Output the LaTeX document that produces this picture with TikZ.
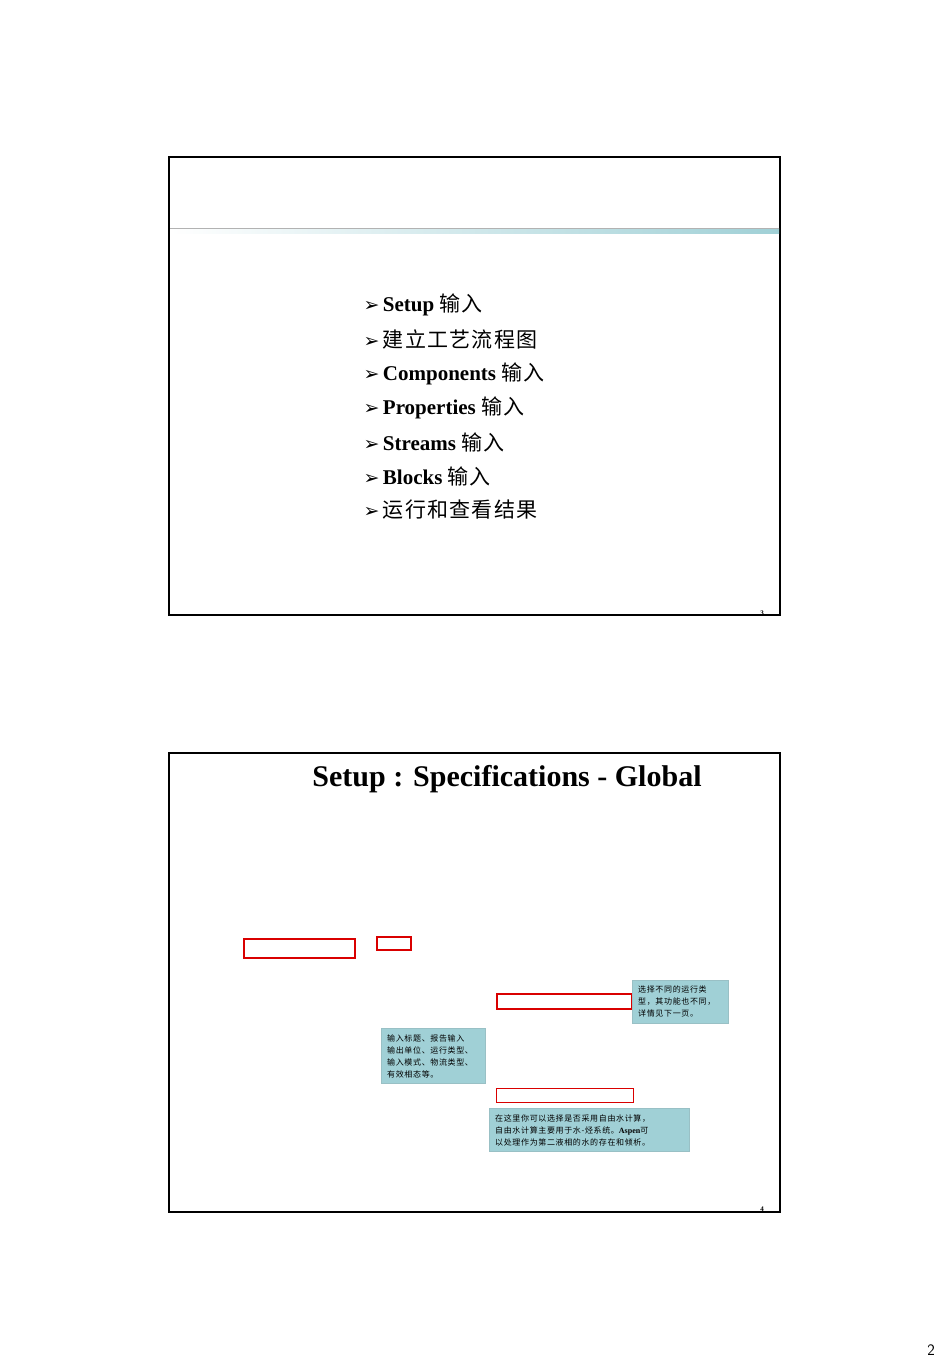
\documentclass[tikz,border=0pt]{standalone}
\usepackage{fontspec}
\setmainfont{Liberation Serif}
\newfontfamily\cjk[LetterSpace=6]{Noto Sans CJK SC}
\newfontfamily\cjks[LetterSpace=8]{Noto Sans CJK SC}
\newfontfamily\dv{DejaVu Sans}
\definecolor{teal1}{RGB}{160,208,214}
\tikzset{x=1pt,y=-1pt,
frame/.style={draw=black,line width=1.2pt},
redbox/.style={draw=red!85!black,line width=1.3pt},
note/.style={fill=teal1,draw=teal1!80!gray,anchor=north west,align=left,inner xsep=6pt,inner ysep=2pt,font=\cjks\fontsize{8}{12}\selectfont},
bul/.style={anchor=west,font=\bfseries\fontsize{21}{24}\selectfont}}
\newcommand{\arr}{{\dv\bfseries\fontsize{19}{19}\selectfont ➢}\,}
\begin{document}
\begin{tikzpicture}
\useasboundingbox (0,0) rectangle (950,1370);
\fill[white] (0,0) rectangle (950,1370);
% slide 1
\draw[frame] (169,157) rectangle (780,615);
\shade[left color=white,right color=teal1] (170,228) rectangle (779,233);
\draw[gray!60,line width=0.6pt] (170,228) -- (779,228);
\node[bul] (b1) at (360,305) {\arr Setup {\cjk\mdseries 输入}};
\node[bul] (b2) at (360,339) {\arr{\cjk\mdseries 建立工艺流程图}};
\node[bul] (b3) at (360,374) {\arr Components {\cjk\mdseries 输入}};
\node[bul] (b4) at (360,408) {\arr Properties {\cjk\mdseries 输入}};
\node[bul] (b5) at (360,442) {\arr Streams {\cjk\mdseries 输入}};
\node[bul] (b6) at (360,476) {\arr Blocks {\cjk\mdseries 输入}};
\node[bul] (b7) at (360,510) {\arr{\cjk\mdseries 运行和查看结果}};
\node[font=\bfseries\fontsize{7}{7}\selectfont] (p3) at (762,613) {3};
% slide 2
\draw[frame] (169,753) rectangle (780,1212);
\node[font=\bfseries\fontsize{30}{32}\selectfont] (t) at (507,779) {Setup : Specifications - Global};
\draw[redbox] (244,939) rectangle (355,958);
\draw[redbox] (377,937) rectangle (411,950);
\draw[redbox] (497,994) rectangle (632,1009);
\draw[redbox,line width=1pt] (496,1088) rectangle (633,1102);
\node[note,text width=84pt,minimum height=43pt] (n1) at (632,980) {选择不同的运行类\\型，其功能也不同，\\详情见下一页。};
\node[note,text width=92pt,minimum height=55pt] (n2) at (381,1028) {\\[-4pt]输入标题、报告输入\\输出单位、运行类型、\\输入模式、物流类型、\\有效相态等。};
\node[note,text width=188pt,minimum height=43pt] (n3) at (489,1108) {\\[-4pt]在这里你可以选择是否采用自由水计算，\\自由水计算主要用于水-烃系统。{\rmfamily\bfseries Aspen}可\\以处理作为第二液相的水的存在和倾析。};
\node[font=\bfseries\fontsize{7}{7}\selectfont] (p4) at (762,1209) {4};
\node[font=\sffamily\fontsize{16}{16}\selectfont] (p2) at (931,1350) {2};
\end{tikzpicture}
\end{document}
